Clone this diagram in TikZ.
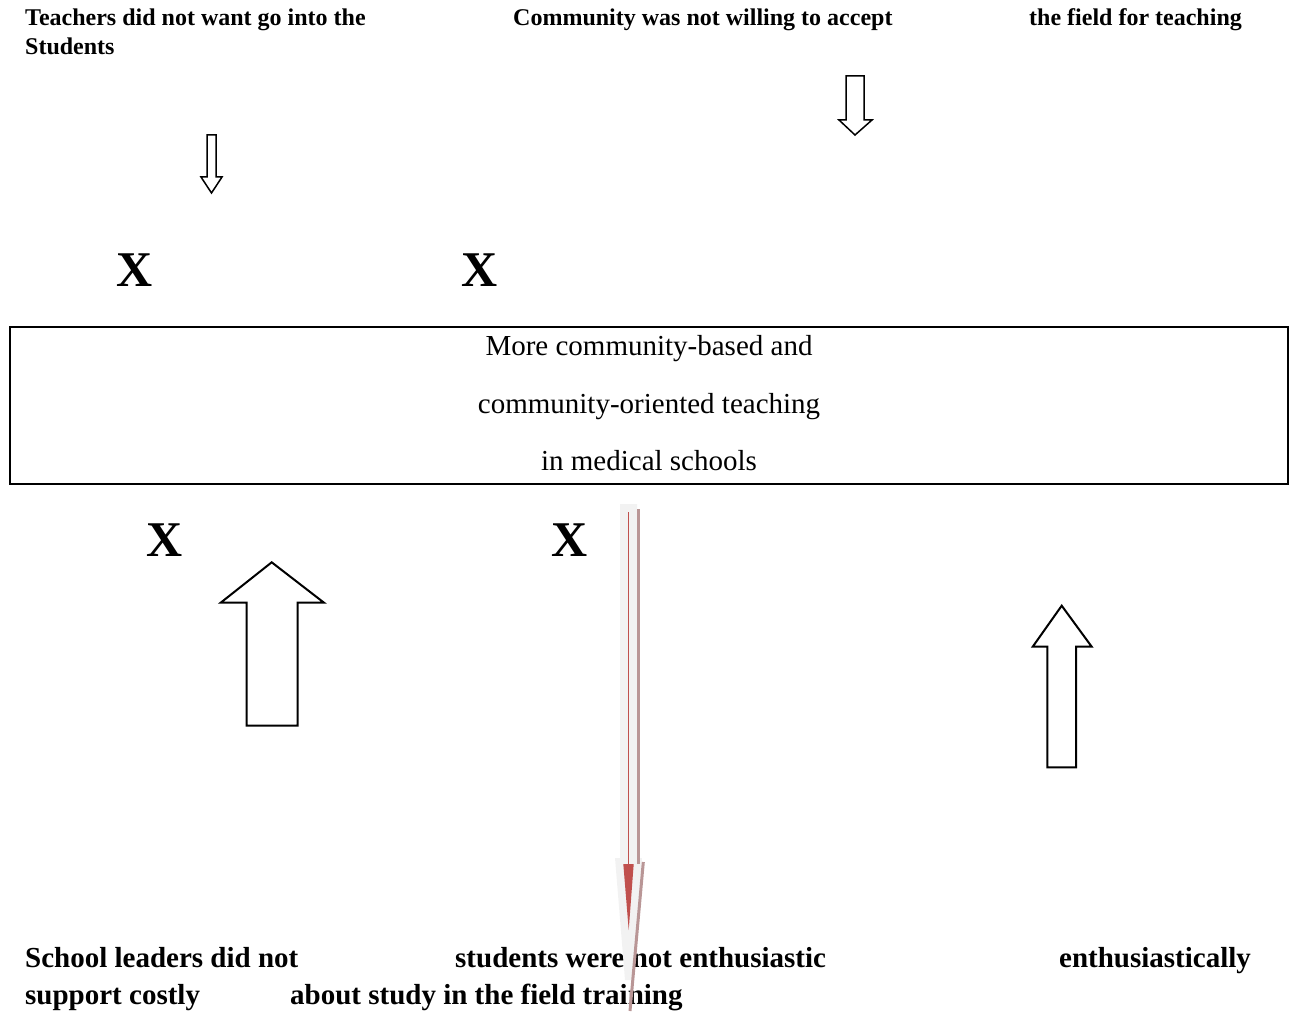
\documentclass[tikz,border=0pt]{standalone}
\usepackage{fontspec}
\setmainfont{Liberation Serif}
\definecolor{shadowgray}{HTML}{F2F2F2}
\definecolor{arrowred}{HTML}{C0504D}
\definecolor{arrowbrown}{RGB}{185,150,150}
\begin{document}
\begin{tikzpicture}[x=1pt,y=-1pt,
  toplabel/.style={inner sep=0pt,anchor=base west,font=\bfseries\fontsize{24}{29}\selectfont},
  botlabel/.style={inner sep=0pt,anchor=base west,font=\bfseries\fontsize{29}{37}\selectfont},
  boxline/.style={inner sep=0pt,anchor=base,font=\fontsize{29}{35}\selectfont},
  cross/.style={inner sep=0pt,anchor=base west,font=\bfseries\fontsize{50}{60}\selectfont},
  blockarrow/.style={draw=black,line width=2pt,fill=white,line join=miter},
  thinarrow/.style={draw=black,line width=1.5pt,fill=white,line join=miter},
]
\useasboundingbox (0,0) rectangle (1289,1011);

% headline causes
\node[toplabel] (t1a) at (25,26) {Teachers did not want go into the};
\node[toplabel] (t1b) at (25,55) {Students};
\node[toplabel] (t2) at (513,26) {Community was not willing to accept};
\node[toplabel] (t3) at (1029,26) {the field for teaching};

% small downward outline arrows
\path[thinarrow] (207,135) -- (216,135) -- (216,177) -- (222,177) -- (211.5,193)
  -- (201,177) -- (207,177) -- cycle;
\path[thinarrow] (846,76) -- (864,76) -- (864,120) -- (872,120) -- (855,135)
  -- (839,120) -- (846,120) -- cycle;

% crosses above the box
\node[cross] (x1) at (116,286) {X};
\node[cross] (x2) at (461,286) {X};

% central box
\node[draw=black,line width=2pt,minimum width=1278pt,minimum height=157pt,inner sep=0pt]
  (goal) at (649,405) {};
\node[boxline] (g1) at (649,355) {More community-based and};
\node[boxline] (g2) at (649,413) {community-oriented teaching};
\node[boxline] (g3) at (649,470) {in medical schools};

% crosses below the box
\node[cross] (x3) at (146,556) {X};
\node[cross] (x4) at (551,556) {X};

% upward outline arrows
\path[blockarrow] (246.7,725.7) -- (246.7,602.7) -- (220.7,602.7) -- (271.7,562.3)
  -- (324,602.7) -- (297.7,602.7) -- (297.7,725.7) -- cycle;
\path[blockarrow] (1047.3,767.3) -- (1047.3,646.7) -- (1032.7,646.7) -- (1061.7,605.7)
  -- (1091.7,646.7) -- (1076,646.7) -- (1076,767.3) -- cycle;

% bottom causes
\node[botlabel] (b1a) at (25,967) {School leaders did not};
\node[botlabel] (b1b) at (25,1004) {support costly};
\node[botlabel] (b2a) at (455,967) {students were not enthusiastic};
\node[botlabel] (b2b) at (290,1004) {about study in the field training};
\node[botlabel] (b3) at (1059,967) {enthusiastically};

% long red arrow with its light shadow
\fill[shadowgray] (620,504) -- (637,504) -- (637,858) -- (642,858) -- (633,980)
  -- (625,980) -- (615,858) -- (620,858) -- cycle;
\coordinate (rtop) at (628.5,512);
\coordinate (rbase) at (628.5,864);
\coordinate (rtip) at (628.7,930);
\draw[arrowred,line width=1.5pt] (rtop) -- (rbase);
\fill[arrowred] (623.3,864) -- (633.7,864) -- (rtip) -- cycle;
\coordinate (btop) at (638.3,509);
\coordinate (bmid) at (638.3,864);
\coordinate (bkink) at (643.3,862);
\coordinate (bend) at (630,1011);
\draw[arrowbrown,line width=3pt] (btop) -- (bmid);
\draw[arrowbrown,line width=3pt] (bkink) -- (bend);
\end{tikzpicture}
\end{document}
